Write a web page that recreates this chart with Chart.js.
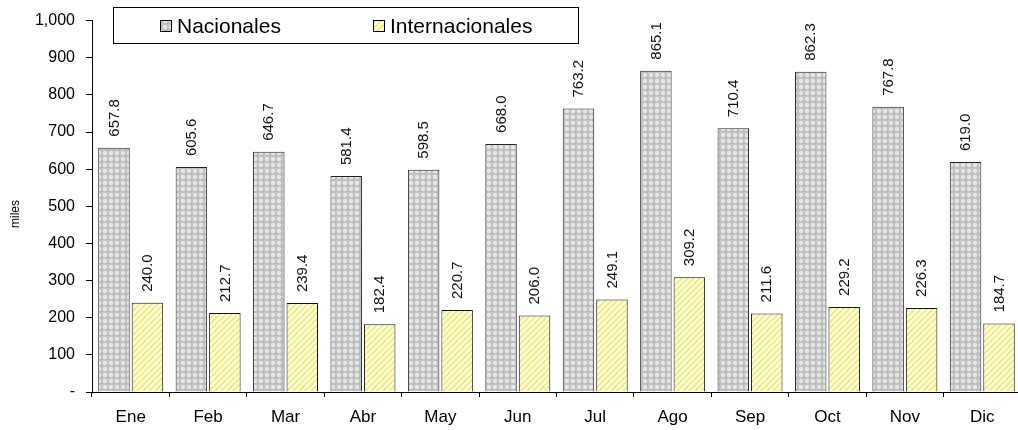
<!DOCTYPE html>
<html>
<head>
<meta charset="utf-8">
<script src="https://cdn.jsdelivr.net/npm/chart.js@4/dist/chart.umd.min.js"></script>
<style>
  html, body { margin: 0; padding: 0; background: #fff; overflow: hidden; }
  #wrap { width: 1018px; height: 430px; overflow: hidden; }
</style>
</head>
<body>
<div id="wrap"><canvas id="c" width="1021" height="430"></canvas></div>
<script>
const months = ['Ene','Feb','Mar','Abr','May','Jun','Jul','Ago','Sep','Oct','Nov','Dic'];
const nacionales = [657.8, 605.6, 646.7, 581.4, 598.5, 668.0, 763.2, 865.1, 710.4, 862.3, 767.8, 619.0];
const internacionales = [240.0, 212.7, 239.4, 182.4, 220.7, 206.0, 249.1, 309.2, 211.6, 229.2, 226.3, 184.7];
const yTicks = [0, 100, 200, 300, 400, 500, 600, 700, 800, 900, 1000];

const FONT = '"Liberation Sans", Arial, sans-serif';

// Dotted gray fill for the domestic series
function dotPattern() {
  const t = document.createElement('canvas');
  t.width = 6; t.height = 6;
  const g = t.getContext('2d');
  g.fillStyle = '#bcbcbc';
  g.fillRect(0, 0, 6, 6);
  g.fillStyle = '#e6e6e6';
  g.beginPath(); g.arc(3, 3, 2.3, 0, Math.PI * 2); g.fill();
  g.fillStyle = '#d2d2d2';
  g.fillRect(0, 0, 1, 1);
  return g.createPattern(t, 'repeat');
}

// Diagonal yellow hatch for the international series
function hatchPattern() {
  const t = document.createElement('canvas');
  t.width = 6; t.height = 6;
  const g = t.getContext('2d');
  g.fillStyle = '#ffffd2';
  g.fillRect(0, 0, 6, 6);
  g.strokeStyle = '#eaea8a';
  g.lineWidth = 1.6;
  g.beginPath();
  g.moveTo(0, 6); g.lineTo(6, 0);
  g.moveTo(-1, 1); g.lineTo(1, -1);
  g.moveTo(5, 7); g.lineTo(7, 5);
  g.stroke();
  return g.createPattern(t, 'repeat');
}

// Rotated value labels above each bar
const valueLabels = {
  id: 'valueLabels',
  afterDatasetsDraw(chart) {
    const ctx = chart.ctx;
    ctx.save();
    ctx.font = '15px ' + FONT;
    ctx.fillStyle = '#111';
    ctx.textAlign = 'left';
    ctx.textBaseline = 'middle';
    chart.data.datasets.forEach((ds, i) => {
      chart.getDatasetMeta(i).data.forEach((bar, j) => {
        ctx.save();
        ctx.translate(bar.x + 0.5, bar.y - 11);
        ctx.rotate(-Math.PI / 2);
        ctx.fillText(ds.data[j].toFixed(1), 0, 0);
        ctx.restore();
      });
    });
    ctx.restore();
  }
};

// Boxed legend across the top of the plot
const boxLegend = {
  id: 'boxLegend',
  afterDraw(chart) {
    const ctx = chart.ctx;
    ctx.save();
    ctx.strokeStyle = '#000';
    ctx.lineWidth = 1;
    ctx.fillStyle = '#fff';
    ctx.fillRect(113.5, 7.5, 465, 36);
    ctx.strokeRect(113.5, 7.5, 465, 36);
    const items = [[160, 177], [373, 390]];
    ctx.font = '21px ' + FONT;
    ctx.textBaseline = 'middle';
    ctx.textAlign = 'left';
    chart.data.datasets.forEach((ds, i) => {
      const [bx, tx] = items[i];
      ctx.fillStyle = ds.backgroundColor;
      ctx.fillRect(bx + 0.5, 20.5, 11, 11);
      ctx.strokeStyle = '#000';
      ctx.strokeRect(bx + 0.5, 20.5, 11, 11);
      ctx.fillStyle = '#000';
      ctx.fillText(ds.label, tx, 27);
    });
    ctx.restore();
  }
};

const axisTitle = {
  id: 'axisTitle',
  afterDraw(chart) {
    const ctx = chart.ctx;
    ctx.save();
    ctx.font = '12px ' + FONT;
    ctx.fillStyle = '#000';
    ctx.textAlign = 'center';
    ctx.textBaseline = 'middle';
    ctx.translate(16, 214);
    ctx.rotate(-Math.PI / 2);
    ctx.fillText('miles', 0, 0);
    ctx.restore();
  }
};

new Chart(document.getElementById('c'), {
  type: 'bar',
  data: {
    labels: months,
    datasets: [
      {
        label: 'Nacionales',
        data: nacionales,
        backgroundColor: dotPattern(),
        borderColor: '#222',
        borderWidth: 1,
        borderSkipped: 'bottom',
        categoryPercentage: 0.865,
        barPercentage: 0.94
      },
      {
        label: 'Internacionales',
        data: internacionales,
        backgroundColor: hatchPattern(),
        borderColor: '#111',
        borderWidth: 1,
        borderSkipped: 'bottom',
        categoryPercentage: 0.865,
        barPercentage: 0.94
      }
    ]
  },
  options: {
    responsive: false,
    animation: false,
    layout: { padding: { top: 19, right: 0, left: 0, bottom: 0 } },
    plugins: {
      legend: { display: false },
      tooltip: { enabled: false }
    },
    scales: {
      x: {
        grid: {
          offset: true,
          drawOnChartArea: false,
          drawTicks: true,
          tickLength: 5,
          color: '#000'
        },
        border: { display: true, color: '#000', width: 1 },
        ticks: {
          color: '#000',
          font: { family: FONT, size: 17 },
          padding: 10,
          maxRotation: 0
        },
        afterFit(scale) { scale.height = 38; }
      },
      y: {
        min: 0,
        max: 1000,
        afterBuildTicks(scale) { scale.ticks = yTicks.map(v => ({ value: v })); },
        grid: {
          drawOnChartArea: false,
          drawTicks: true,
          tickLength: 6,
          color: '#000'
        },
        border: { display: true, color: '#000', width: 1 },
        ticks: {
          color: '#000',
          font: { family: FONT, size: 16 },
          padding: 11,
          callback: v => v === 0 ? '-' : v.toLocaleString('en-US')
        },
        afterFit(scale) { scale.width = 92; }
      }
    }
  },
  plugins: [valueLabels, boxLegend, axisTitle]
});
</script>
</body>
</html>
